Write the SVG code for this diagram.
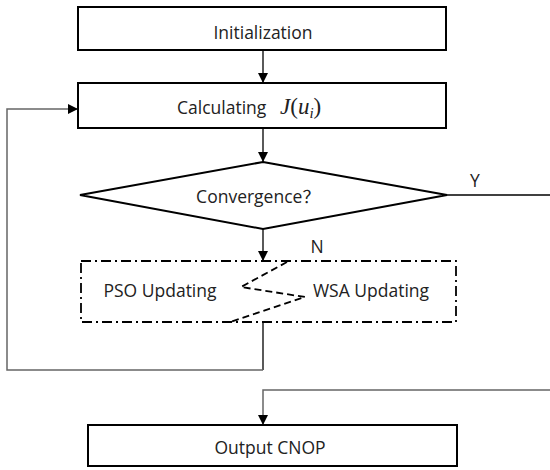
<svg xmlns="http://www.w3.org/2000/svg" width="550" height="470" viewBox="0 0 550 470">
<defs>
<marker id="ah" viewBox="0 0 10 10" refX="10" refY="5" markerWidth="10" markerHeight="10" markerUnits="userSpaceOnUse" orient="auto">
<path d="M0,0 L10,5 L0,10 z" fill="#000"/>
</marker>
<style>
.box{fill:#fff;stroke:#000;stroke-width:2}
.t{font-family:"Open Sans","Liberation Sans","Noto Sans CJK SC",sans-serif;font-size:17.5px;fill:#222;text-anchor:middle}
.s{text-anchor:start}
.m{font-family:"Liberation Serif",serif;font-size:23px;fill:#222}
.c{fill:none;stroke:#000;stroke-width:1.3}
.g{fill:none;stroke:#666;stroke-width:1.5}
.dash{fill:none;stroke:#000;stroke-width:1.8;stroke-dasharray:7,4}
.dd{fill:none;stroke:#000;stroke-width:1.8;stroke-dasharray:10,4,2,4}
</style>
</defs>
<g id="connectors">
<path class="c" d="M263,50 V83" marker-end="url(#ah)"/>
<path class="c" d="M263,128 V162" marker-end="url(#ah)"/>
<path class="c" d="M263,229 V261" marker-end="url(#ah)"/>
<path class="c" d="M447,195 H550"/>
<path class="c" d="M263,322 V370"/>
<path class="g" d="M263,370 H7 V109 H78" marker-end="url(#ah)"/>
<path class="g" d="M550,390 H263 V425" marker-end="url(#ah)"/>
<text class="t" x="475" y="187">Y</text>
<text class="t" x="317" y="253">N</text>
</g>
<g id="init">
<rect class="box" x="78" y="7" width="368" height="43"/>
<text class="t" x="263" y="39">Initialization</text>
</g>
<g id="calc">
<rect class="box" x="78" y="83" width="368" height="45"/>
<text class="t s" x="177" y="114">Calculating</text>
<text class="m" x="280" y="114"><tspan font-style="italic">J</tspan>(<tspan font-style="italic">u</tspan><tspan font-style="italic" font-size="15" dy="4">i</tspan><tspan dy="-4">)</tspan></text>
</g>
<g id="conv">
<polygon class="box" points="263,162 447,195 263,229 80,195"/>
<text class="t" x="258" y="203">Convergence？</text>
</g>
<g id="update">
<rect class="dd" x="81" y="261" width="375" height="61"/>
<path class="dash" d="M287,262 L241,287 L305,297 L230,322"/>
<text class="t" x="160" y="297">PSO Updating</text>
<text class="t" x="371" y="297">WSA Updating</text>
</g>
<g id="output">
<rect class="box" x="88" y="425" width="369" height="41"/>
<text class="t" x="270" y="454">Output CNOP</text>
</g>
</svg>
